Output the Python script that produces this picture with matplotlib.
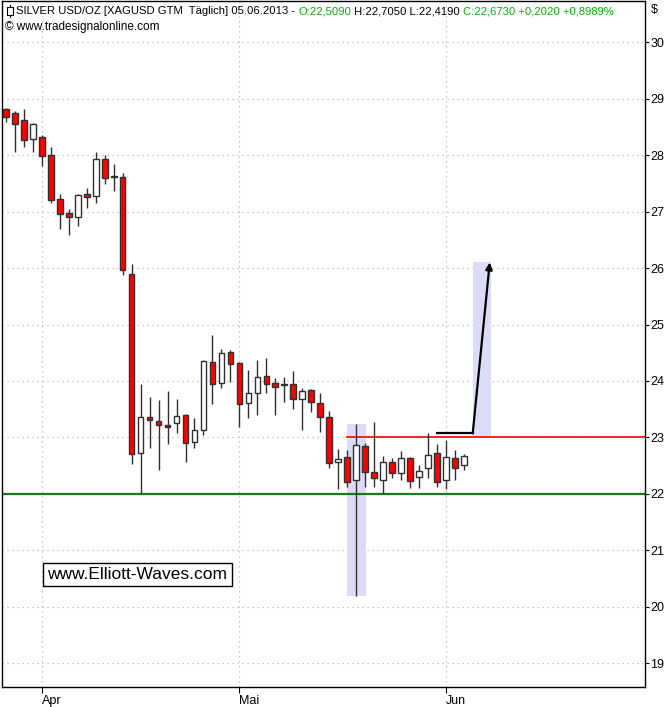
import matplotlib
matplotlib.use("Agg")
import matplotlib.pyplot as plt
from matplotlib import font_manager
from matplotlib.patches import Rectangle
import numpy as np

plt.rcParams['font.family'] = ['Liberation Sans', 'DejaVu Sans']

# daily OHLC, XAGUSD, 25.03.2013 - 05.06.2013 (one entry per trading day)
opens = [28.81, 28.74, 28.63, 28.28, 28.33, 28.00, 27.23, 26.97, 26.91, 27.32,
         27.27, 27.94, 27.61, 27.62, 25.90, 22.73, 23.36, 23.29, 23.22, 23.26,
         23.40, 22.92, 23.13, 24.34, 23.97, 24.52, 24.32, 23.61, 23.79, 24.09,
         23.97, 23.94, 23.95, 23.68, 23.84, 23.61, 23.36, 22.56, 22.65, 22.25,
         22.85, 22.39, 22.25, 22.57, 22.37, 22.64, 22.30, 22.45, 22.73, 22.25,
         22.64, 22.509]
highs = [28.83, 28.79, 28.81, 28.57, 28.35, 28.15, 27.32, 27.05, 27.32, 27.41,
         28.05, 28.00, 27.84, 27.69, 26.08, 23.95, 23.72, 23.67, 23.83, 23.68,
         23.42, 23.35, 24.38, 24.82, 24.57, 24.54, 24.34, 24.20, 24.38, 24.41,
         24.06, 24.07, 24.18, 23.88, 23.86, 23.79, 23.47, 22.80, 22.78, 23.24,
         22.91, 23.27, 22.67, 22.64, 22.76, 22.66, 22.52, 23.08, 22.89, 22.95,
         22.78, 22.705]
lows = [28.58, 28.05, 28.15, 28.05, 27.80, 27.16, 26.70, 26.58, 26.74, 27.07,
        27.16, 27.48, 27.36, 25.88, 22.53, 22.02, 22.81, 22.42, 22.88, 23.08,
        22.57, 22.81, 23.05, 23.59, 23.88, 23.98, 23.18, 23.35, 23.40, 23.79,
        23.40, 23.63, 23.51, 23.13, 23.45, 23.10, 22.46, 22.09, 22.12, 20.19,
        22.12, 22.12, 22.00, 22.28, 22.25, 22.10, 22.10, 22.28, 22.12, 22.09,
        22.25, 22.419]
closes = [28.67, 28.56, 28.26, 28.55, 27.98, 27.21, 26.95, 26.90, 27.29, 27.25,
          27.94, 27.59, 27.62, 25.97, 22.71, 23.36, 23.31, 23.22, 23.19, 23.38,
          22.90, 23.13, 24.36, 23.95, 24.50, 24.30, 23.59, 23.79, 24.07, 23.95,
          23.90, 23.92, 23.68, 23.83, 23.63, 23.36, 22.55, 22.61, 22.21, 22.87,
          22.39, 22.28, 22.57, 22.37, 22.64, 22.23, 22.41, 22.69, 22.21, 22.66,
          22.45, 22.673]

month_labels = ["Apr", "Mai", "Jun"]
month_idx = [4, 26, 49]          # first trading day of each month
price_ticks = list(range(19, 31))

support = 22.0
resistance = 23.0

# header font: narrow if we have it, else just smaller
names = {f.name for f in font_manager.fontManager.ttflist}
if "Liberation Sans Narrow" in names:
    head_font = dict(family=["Liberation Sans Narrow", "DejaVu Sans"], fontsize=9)
else:
    head_font = dict(fontsize=8.1)

fig = plt.figure(figsize=(6.7, 7.07), dpi=100)
ax = fig.add_axes([2 / 670, 1 - 687 / 707, 643 / 670, 686 / 707])

ax.set_xlim(-0.45, 71.2)
ax.set_ylim(18.58, 30.73)

# dotted grid
for p in price_ticks:
    ax.axhline(p, color="#b8b8b8", lw=0.9, ls=(0, (1, 3)), zorder=0)
for m in month_idx:
    ax.axvline(m, color="#b8b8b8", lw=0.9, ls=(0, (1, 3)), zorder=0)

# shaded highlight boxes
ax.add_patch(Rectangle((38.0, 20.19), 2.1, 23.24 - 20.19, facecolor="#dcdcf8",
                       edgecolor="none", zorder=1))
ax.add_patch(Rectangle((52.0, 23.0), 2.0, 26.1 - 23.0, facecolor="#dcdcf8",
                       edgecolor="none", zorder=1))

# support / resistance lines
ax.axhline(support, color="#1a7a1a", lw=1.6, zorder=2)
ax.plot([38.0, 71.2], [resistance, resistance], color="#ff2020", lw=1.4, zorder=2)

# candles
x = np.arange(len(opens))
o = np.array(opens)
c = np.array(closes)
ax.vlines(x, lows, highs, color="#303030", lw=1.0, zorder=3)
up = c >= o
bottoms = np.minimum(o, c)
heights = np.maximum(np.abs(c - o), 0.025)
colors = np.where(up, "white", "#ff0000")
ax.bar(x, heights, bottom=bottoms, width=0.62, color=colors,
       edgecolor="#303030", linewidth=1.0, zorder=4)

# projection arrow
ax.plot([48.0, 52.0], [23.07, 23.07], color="black", lw=1.6, zorder=5)
ax.annotate("", xy=(53.9, 26.1), xytext=(52.0, 23.07),
            arrowprops=dict(arrowstyle="-|>", color="black", lw=1.6,
                            mutation_scale=10, shrinkA=0, shrinkB=0), zorder=5)

# axes styling
for s in ax.spines.values():
    s.set_color("black")
    s.set_linewidth(1.0)
ax.yaxis.tick_right()
ax.set_yticks(price_ticks)
ax.set_yticklabels([str(p) for p in price_ticks])
ax.tick_params(axis="y", length=3, width=0.8, pad=1, labelsize=9)
ax.set_xticks(month_idx)
ax.set_xticklabels(month_labels, ha="left")
ax.tick_params(axis="x", length=4, width=0.8, pad=2, labelsize=9)

# header
green = "#00b400"
t1 = ax.text(14 / 643, 1 - 10 / 686, "SILVER USD/OZ [XAGUSD GTM  Täglich] 05.06.2013 - ",
             transform=ax.transAxes, va="center", ha="left", **head_font)
t2 = ax.annotate("O:22,5090", xy=(1, 0), xycoords=t1, va="bottom", ha="left",
                 color=green, **head_font)
t3 = ax.annotate(" H:22,7050 L:22,4190 ", xy=(1, 0), xycoords=t2, va="bottom",
                 ha="left", **head_font)
ax.annotate("C:22,6730 +0,2020 +0,8989%", xy=(1, 0), xycoords=t3, va="bottom",
            ha="left", color=green, **head_font)
ax.text(3 / 643, 1 - 26 / 686, "© www.tradesignalonline.com",
        transform=ax.transAxes, fontsize=8.5, va="center", ha="left")
# little candle icon
ax.plot([8 / 643, 8 / 643], [1 - 4 / 686, 1 - 16 / 686], color="black", lw=0.8,
        transform=ax.transAxes)
ax.add_patch(Rectangle((5 / 643, 1 - 14 / 686), 6 / 643, 8 / 686, transform=ax.transAxes,
                       facecolor="white", edgecolor="black", lw=0.8, zorder=6))

fig.text(651 / 670, 1 - 10 / 707, "$", fontsize=9, va="center", ha="left")

ax.text(4.6, 20.57, "www.Elliott-Waves.com", fontsize=12.5, va="center", ha="left",
        bbox=dict(boxstyle="square,pad=0.25", facecolor="white", edgecolor="black", lw=1.0),
        zorder=6)

fig.savefig("out.png", dpi=100)
